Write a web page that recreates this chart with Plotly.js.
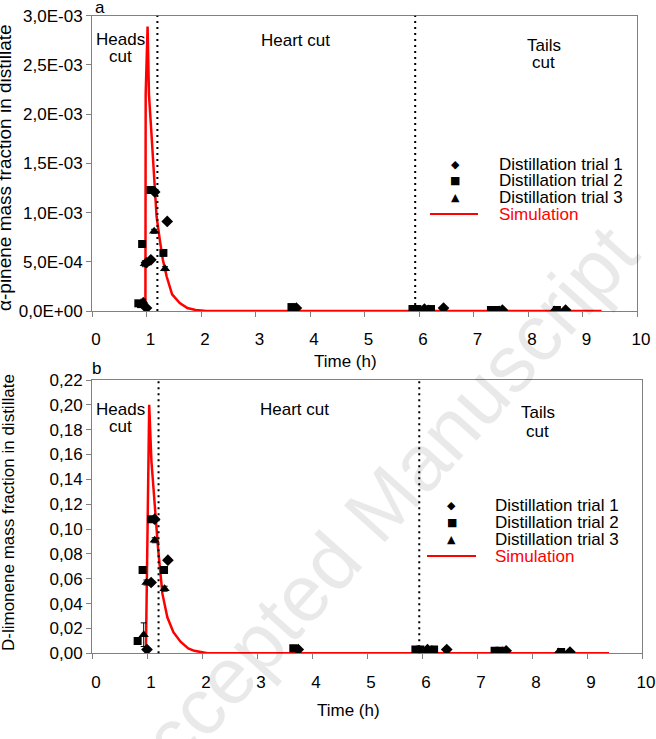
<!DOCTYPE html>
<html>
<head>
<meta charset="utf-8">
<script src="https://cdn.plot.ly/plotly-3.0.1.min.js"></script>
<style>
  body { margin: 0; background: #fff; }
  #chart { width: 656px; height: 739px; }
</style>
</head>
<body>
<div id="chart"></div>
<script>
const W = 656, H = 739;
const px = x => x / W;
const py = y => 1 - y / H;

// axis ticks
const timeTicks = [0, 1, 2, 3, 4, 5, 6, 7, 8, 9, 10];
const pineneTicks = [0, 0.0005, 0.001, 0.0015, 0.002, 0.0025, 0.003];
const pineneTickText = ['0,0E+00', '5,0E-04', '1,0E-03', '1,5E-03', '2,0E-03', '2,5E-03', '3,0E-03'];
const limoneneTicks = [0, 0.02, 0.04, 0.06, 0.08, 0.10, 0.12, 0.14, 0.16, 0.18, 0.20, 0.22];
const limoneneTickText = ['0,00', '0,02', '0,04', '0,06', '0,08', '0,10', '0,12', '0,14', '0,16', '0,18', '0,20', '0,22'];

// cut times (h)
const cutTimesA = [1.2, 5.93];
const cutTimesB = [1.21, 5.95];

// (a) alpha-pinene
const simTimeA = [0.98, 0.985, 1.02, 1.045, 1.09, 1.15, 1.185, 1.245, 1.3, 1.37, 1.47, 1.61, 1.75, 1.9, 2.1, 9.35];
const simA = [0, 0.0022, 0.00289, 0.0022, 0.00181, 0.00122, 0.00096, 0.00072, 0.00052, 0.00035, 0.00017, 0.00008, 0.00003, 0.00001, 0, 0];

const trial1TimeA = [1.0, 1.0, 1.08, 1.15, 1.38, 3.75, 6.1, 6.45, 7.53, 8.69];
const trial1A = [0.00003, 0.00049, 0.00052, 0.00121, 0.00091, 0.00003, 0.00002, 0.00003, 0.00001, 0.00001];
const trial2TimeA = [0.85, 0.9, 0.92, 1.075, 1.31, 3.66, 5.88, 5.97, 6.22, 7.32, 7.41, 8.53];
const trial2A = [0.000078, 0.00007, 0.00068, 0.00123, 0.00059, 0.00004, 0.00002, 0.00002, 0.00002, 0.00001, 0.00001, 0.00001];
const trial3TimeA = [0.94, 0.97, 1.14, 1.34, 3.7, 6.0, 6.18, 7.47, 8.48];
const trial3A = [0.0001, 0.00048, 0.00081, 0.00043, 0.00003, 0.000015, 0.00002, 0.00001, 0.00001];
const trial3ErrA = [0.00002, 0.00003, 0.00002, 0.00002, 0, 0, 0, 0, 0];

// (b) D-limonene
const simTimeB = [0.98, 1.04, 1.08, 1.135, 1.2, 1.28, 1.37, 1.48, 1.61, 1.75, 1.86, 2.1, 9.4];
const simB = [0, 0.20, 0.155, 0.123, 0.085, 0.048, 0.029, 0.017, 0.0093, 0.004, 0.002, 0, 0];

const trial1TimeB = [1.0, 1.075, 1.14, 1.38, 3.75, 6.1, 6.45, 7.53, 8.69];
const trial1B = [0.003, 0.057, 0.108, 0.075, 0.003, 0.003, 0.003, 0.002, 0.001];
const trial2TimeB = [0.83, 0.92, 1.075, 1.31, 3.66, 5.88, 5.97, 6.22, 7.32, 7.41, 8.53];
const trial2B = [0.010, 0.067, 0.108, 0.067, 0.004, 0.003, 0.003, 0.003, 0.002, 0.002, 0.001];
const trial3TimeB = [0.94, 0.99, 1.14, 1.32, 3.7, 6.0, 6.18, 7.47, 8.48];
const trial3B = [0.015, 0.057, 0.091, 0.052, 0.003, 0.002, 0.003, 0.002, 0.001];
const trial3ErrB = [0.0095, 0.002, 0.002, 0.002, 0, 0, 0, 0, 0];

const legendLabels = ['Distillation trial 1', 'Distillation trial 2', 'Distillation trial 3', 'Simulation'];
const legendGlyphs = ['\u25C6', '\u25A0', '\u25B2'];

const RED = '#ff0000';
const FONT = 'Liberation Sans, Arial, sans-serif';

function panelTraces(xa, ya, simT, simV, t1, v1, t2, v2, t3, v3, e3) {
  return [
    {x: simT, y: simV, xaxis: xa, yaxis: ya, mode: 'lines', name: 'Simulation',
     line: {color: RED, width: 2.5}},
    {x: t1, y: v1, xaxis: xa, yaxis: ya, mode: 'markers', name: 'Distillation trial 1',
     marker: {symbol: 'diamond', size: 9, color: '#000'}},
    {x: t2, y: v2, xaxis: xa, yaxis: ya, mode: 'markers', name: 'Distillation trial 2',
     marker: {symbol: 'square', size: 8, color: '#000'}},
    {x: t3, y: v3, xaxis: xa, yaxis: ya, mode: 'markers', name: 'Distillation trial 3',
     marker: {symbol: 'triangle-up', size: 9, color: '#000'},
     error_y: {type: 'data', array: e3, visible: true, color: '#000', thickness: 1, width: 3}}
  ];
}

const data = [
  ...panelTraces('x', 'y', simTimeA, simA, trial1TimeA, trial1A, trial2TimeA, trial2A, trial3TimeA, trial3A, trial3ErrA),
  ...panelTraces('x2', 'y2', simTimeB, simB, trial1TimeB, trial1B, trial2TimeB, trial2B, trial3TimeB, trial3B, trial3ErrB)
];

const axisBase = {
  showline: true, linecolor: '#808080', linewidth: 1, mirror: true,
  ticks: 'outside', ticklen: 5, tickcolor: '#808080', tickwidth: 1,
  showgrid: false, zeroline: false, automargin: false,
  tickfont: {family: FONT, size: 17, color: '#000'}
};

const xBase = {...axisBase, range: [0, 10], tickvals: timeTicks, ticktext: timeTicks.map(String),
  ticklabelstandoff: 8, ticklabelshift: 4};

// text annotations
const annotations = [];
function addText(text, x, y, size, extra) {
  annotations.push({text: text, xref: 'paper', yref: 'paper', x: px(x), y: py(y),
    xanchor: 'center', yanchor: 'middle', showarrow: false,
    font: {family: FONT, size: size, color: '#000'}, ...extra});
}

// watermark
addText('Accepted Manuscript', 372, 515, 80, {textangle: -48, font: {family: FONT, size: 80, color: 'rgba(0,0,0,0.085)'}});

addText('a', 100, 8, 17);
addText('b', 96, 368, 17);

addText('Heads', 120, 40, 17);
addText('cut', 120, 57, 17);
addText('Heart cut', 295, 41, 17);
addText('Tails', 544, 46, 17);
addText('cut', 543, 63, 17);

addText('Heads', 120, 409, 17);
addText('cut', 120, 426, 17);
addText('Heart cut', 294, 409, 17);
addText('Tails', 538, 413, 17);
addText('cut', 537, 431, 17);

addText('Time (h)', 345, 361, 17);
addText('Time (h)', 348, 710, 17);

addText('\u03B1-pinene mass fraction in distillate', 4, 168, 19, {textangle: -90});
addText('D-limonene mass fraction in distillate', 8, 513, 17, {textangle: -90});

const shapes = [];

function addLegend(symX, textX, rows, lineX0, lineX1) {
  legendLabels.forEach((lab, i) => {
    const isSim = i === 3;
    annotations.push({text: lab, xref: 'paper', yref: 'paper', x: px(textX), y: py(rows[i]),
      xanchor: 'left', yanchor: 'middle', showarrow: false,
      font: {family: FONT, size: 17, color: isSim ? RED : '#000'}});
    if (!isSim) {
      annotations.push({text: legendGlyphs[i], xref: 'paper', yref: 'paper', x: px(symX), y: py(rows[i]),
        xanchor: 'center', yanchor: 'middle', showarrow: false,
        font: {family: 'DejaVu Sans', size: 11, color: '#000'}});
    }
  });
  shapes.push({type: 'line', xref: 'paper', yref: 'paper', x0: px(lineX0), x1: px(lineX1),
    y0: py(rows[3]), y1: py(rows[3]), line: {color: RED, width: 2}});
}

addLegend(455, 497, [164, 180.7, 197, 214], 430, 478);
addLegend(452, 493, [505, 522, 539, 556], 427, 476);

cutTimesA.forEach(t => shapes.push({type: 'line', xref: 'x', yref: 'y domain', x0: t, x1: t, y0: 0, y1: 1,
  line: {color: '#000', width: 2, dash: '2px,4px'}}));
cutTimesB.forEach(t => shapes.push({type: 'line', xref: 'x2', yref: 'y2 domain', x0: t, x1: t, y0: 0, y1: 1,
  line: {color: '#000', width: 2, dash: '2px,4px'}}));

const layout = {
  width: W, height: H,
  margin: {l: 0, r: 0, t: 0, b: 0},
  paper_bgcolor: '#fff', plot_bgcolor: '#fff',
  showlegend: false,
  font: {family: FONT, color: '#000'},
  xaxis: {...xBase, domain: [px(92), px(637)], anchor: 'y'},
  yaxis: {...axisBase, domain: [py(311), py(15.7)], anchor: 'x', range: [0, 0.003],
          tickvals: pineneTicks, ticktext: pineneTickText},
  xaxis2: {...xBase, domain: [px(92), px(642)], anchor: 'y2'},
  yaxis2: {...axisBase, domain: [py(653.3), py(380)], anchor: 'x2', range: [0, 0.22],
           tickvals: limoneneTicks, ticktext: limoneneTickText},
  annotations: annotations,
  shapes: shapes
};

Plotly.newPlot('chart', data, layout, {staticPlot: true});
</script>
</body>
</html>
